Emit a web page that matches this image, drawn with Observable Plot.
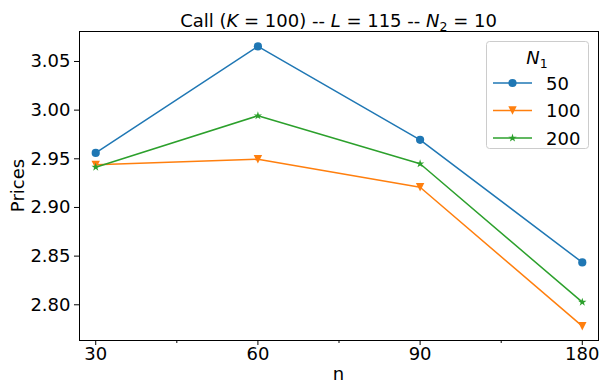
<!DOCTYPE html>
<html>
<head>
<meta charset="utf-8">
<script src="https://cdn.jsdelivr.net/npm/d3@7"></script>
<script src="https://cdn.jsdelivr.net/npm/@observablehq/plot@0.6"></script>
<style>
  html, body { margin: 0; padding: 0; background: white; }
  svg { display: block; }
</style>
</head>
<body>
<div id="chart"></div>
<script>
// ---- data ----
const categories = ["30", "60", "90", "180"];          // n
const seriesNames = ["50", "100", "200"];              // N1
const prices50  = [2.9560, 3.0655, 2.9695, 2.8435];
const prices100 = [2.9438, 2.9495, 2.9208, 2.7780];
const prices200 = [2.9414, 2.9942, 2.9449, 2.8027];
const yTicks = [2.80, 2.85, 2.90, 2.95, 3.00, 3.05];
const colors = ["#1f77b4", "#ff7f0e", "#2ca02c"];
const titleParts = [
  {t: "Call ("}, {t: "K", i: true}, {t: " = 100) -- "}, {t: "L", i: true},
  {t: " = 115 -- "}, {t: "N", i: true}, {t: "2", sub: true}, {t: " = 10", up: true}
];

const seriesValues = [prices50, prices100, prices200];
const rows = seriesValues.map((vals, s) =>
  vals.map((v, i) => ({n: i, cat: categories[i], N1: seriesNames[s], price: v})));

// marker shapes (matplotlib o, v, *)
const triDown = {draw(ctx, size) {
  const r = Math.sqrt(size / Math.PI);
  ctx.moveTo(-r, -r); ctx.lineTo(r, -r); ctx.lineTo(0, r); ctx.closePath();
}};
const star = {draw(ctx, size) {
  const R = Math.sqrt(size / Math.PI) * 1.05, ri = R * 0.381966;
  for (let k = 0; k < 10; k++) {
    const a = -Math.PI / 2 + k * Math.PI / 5, rr = k % 2 ? ri : R;
    const x = rr * Math.cos(a), y = rr * Math.sin(a);
    k ? ctx.lineTo(x, y) : ctx.moveTo(x, y);
  }
  ctx.closePath();
}};
const symbols = ["circle", triDown, star];

const font = "'DejaVu Sans', sans-serif";
const FS = 18, TFS = 18;
const W = 601, H = 383, mL = 79, mR = 3, mT = 31, mB = 43;

const marks = [
  Plot.axisY({ticks: yTicks, tickFormat: d => d.toFixed(2), tickSize: 5, tickPadding: 4, label: null, fontSize: FS}),
  Plot.axisX({ticks: [0, 1, 2, 3], tickFormat: i => categories[i], tickSize: 5, tickPadding: 2, label: null, fontSize: FS}),
  Plot.axisX({ticks: [0.5, 1.5, 2.5], tickFormat: () => "", tickSize: 3, label: null}),
];
rows.forEach((r, s) => {
  marks.push(Plot.line(r, {x: "n", y: "price", stroke: colors[s], strokeWidth: 1.5}));
  marks.push(Plot.dot(r, {x: "n", y: "price", fill: colors[s], stroke: "none", r: s === 0 ? 4.1 : 4.2, symbol: symbols[s]}));
});
marks.push(Plot.frame({stroke: "black", strokeWidth: 1}));

const svg = Plot.plot({
  width: W, height: H,
  marginLeft: mL, marginRight: mR, marginTop: mT, marginBottom: mB,
  style: {fontFamily: font, fontSize: FS + "px", background: "white", color: "black"},
  x: {domain: [-0.1, 3.1]},
  y: {domain: [2.7633, 3.0808]},
  marks
});

const g = d3.select(svg);
// title
const title = g.append("text")
  .attr("x", (mL + W - mR) / 2).attr("y", 27)
  .attr("text-anchor", "middle")
  .style("font-family", font).style("font-size", TFS + "px").attr("fill", "black");
titleParts.forEach(p => {
  const ts = title.append("tspan").text(p.t);
  if (p.i) ts.style("font-style", "italic");
  if (p.sub) ts.attr("dy", 4).style("font-size", "12.5px");
  if (p.up) ts.attr("dy", -4);
});
// axis labels
g.append("text").attr("transform", `translate(24,${(mT + H - mB) / 2}) rotate(-90)`)
  .attr("text-anchor", "middle").style("font-family", font).style("font-size", FS + "px")
  .attr("fill", "black").text("Prices");
g.append("text").attr("x", (mL + W - mR) / 2).attr("y", 380)
  .attr("text-anchor", "middle").style("font-family", font).style("font-size", FS + "px")
  .attr("fill", "black").text("n");

// legend
const lg = g.append("g");
lg.append("rect").attr("x", 486.5).attr("y", 41.5).attr("width", 102).attr("height", 107)
  .attr("rx", 3).attr("fill", "white").attr("fill-opacity", 0.8).attr("stroke", "#cccccc");
const lt = lg.append("text").attr("x", 537).attr("y", 64).attr("text-anchor", "middle")
  .style("font-family", font).style("font-size", FS + "px").attr("fill", "black");
lt.append("tspan").text("N").style("font-style", "italic");
lt.append("tspan").text("1").attr("dy", 4).style("font-size", "12.5px");
seriesNames.forEach((name, s) => {
  const cy = 83 + s * 27.5;
  lg.append("line").attr("x1", 493).attr("x2", 532).attr("y1", cy).attr("y2", cy)
    .attr("stroke", colors[s]).attr("stroke-width", 1.5);
  const sym = typeof symbols[s] === "string" ? d3.symbolCircle : symbols[s];
  const rr = s === 0 ? 4.1 : 4.2;
  lg.append("path").attr("d", d3.symbol(sym, Math.PI * rr * rr)())
    .attr("transform", `translate(512.5,${cy})`).attr("fill", colors[s]);
  lg.append("text").attr("x", 546).attr("y", cy + 6.5).attr("text-anchor", "start")
    .style("font-family", font).style("font-size", FS + "px").attr("fill", "black").text(name);
});

document.getElementById("chart").appendChild(svg);
</script>
</body>
</html>
